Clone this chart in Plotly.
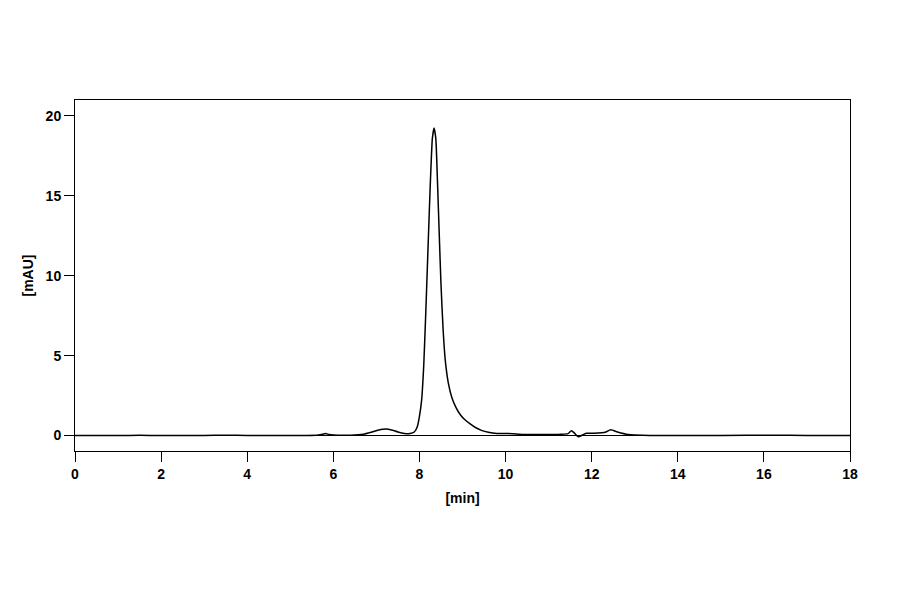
import plotly.graph_objects as go

# chromatogram: retention time [min] vs absorbance [mAU]
time_min = [0.0, 0.5, 1.0, 1.5, 2.0, 3.0, 3.5, 4.0, 5.0, 5.6, 5.75, 5.82, 5.9, 6.0,
            6.4, 6.7, 6.9, 7.1, 7.22, 7.35, 7.5, 7.65, 7.78, 7.88, 7.95, 8.0, 8.05,
            8.1, 8.15, 8.2, 8.25, 8.3, 8.34, 8.38, 8.42, 8.46, 8.5, 8.55, 8.6, 8.67,
            8.75, 8.85, 8.95, 9.05, 9.17, 9.3, 9.44, 9.6, 9.8, 10.05, 10.3, 10.8,
            11.3, 11.45, 11.53, 11.6, 11.69, 11.8, 11.88, 12.05, 12.23, 12.33, 12.44,
            12.6, 12.85, 13.0, 13.35, 14.0, 15.0, 16.2, 17.0, 18.0]
signal_mau = [0.0, 0.0, 0.0, 0.01, 0.0, 0.0, 0.02, 0.0, 0.0, 0.01, 0.08, 0.12, 0.06, 0.03,
              0.02, 0.08, 0.22, 0.37, 0.40, 0.35, 0.22, 0.13, 0.12, 0.22, 0.55, 1.2, 2.2,
              4.4, 7.9, 11.8, 15.6, 18.6, 19.25, 18.6, 15.8, 12.6, 9.5, 6.6, 4.7, 3.3,
              2.4, 1.75, 1.3, 1.0, 0.74, 0.5, 0.32, 0.2, 0.13, 0.13, 0.08, 0.06,
              0.08, 0.12, 0.3, 0.15, -0.08, 0.05, 0.14, 0.14, 0.17, 0.22, 0.36,
              0.22, 0.06, 0.03, 0.0, 0.0, 0.0, 0.02, 0.0, 0.0]

x_ticks = [0, 2, 4, 6, 8, 10, 12, 14, 16, 18]
y_ticks = [0, 5, 10, 15, 20]

fig = go.Figure()
fig.add_trace(go.Scatter(x=time_min, y=signal_mau, mode='lines',
                         line=dict(color='black', width=1.5, shape='spline', smoothing=0.5),
                         showlegend=False, hoverinfo='skip'))

# page body adds an 8px offset, so margins are shifted to put the box at 75..850 / 100..451
fig.update_layout(
    width=900, height=594,
    margin=dict(l=67, r=58, t=92, b=151),
    paper_bgcolor='white', plot_bgcolor='white',
    font=dict(family='Liberation Sans, Arial', size=14, color='black'),
)
fig.update_xaxes(range=[0, 18], tickvals=x_ticks, ticks='outside', ticklen=10,
                 tickcolor='black', showline=True, linecolor='black', linewidth=1,
                 mirror=True, showgrid=False, zeroline=False,
                 tickfont=dict(size=14, weight='bold'),
                 title=dict(text='[min]', font=dict(size=14, weight='bold'), standoff=12))
fig.update_yaxes(range=[-0.97, 21.0], tickvals=y_ticks, ticks='outside', ticklen=10,
                 tickcolor='black', showline=True, linecolor='black', linewidth=1,
                 mirror=True, showgrid=False, zeroline=False,
                 tickfont=dict(size=14, weight='bold'),
                 title=dict(text='[mAU]', font=dict(size=14, weight='bold'), standoff=8))

# horizontal 0 line across the plot, as in the reference
fig.add_hline(y=0, line=dict(color='black', width=1))

fig.write_html("out.html")
